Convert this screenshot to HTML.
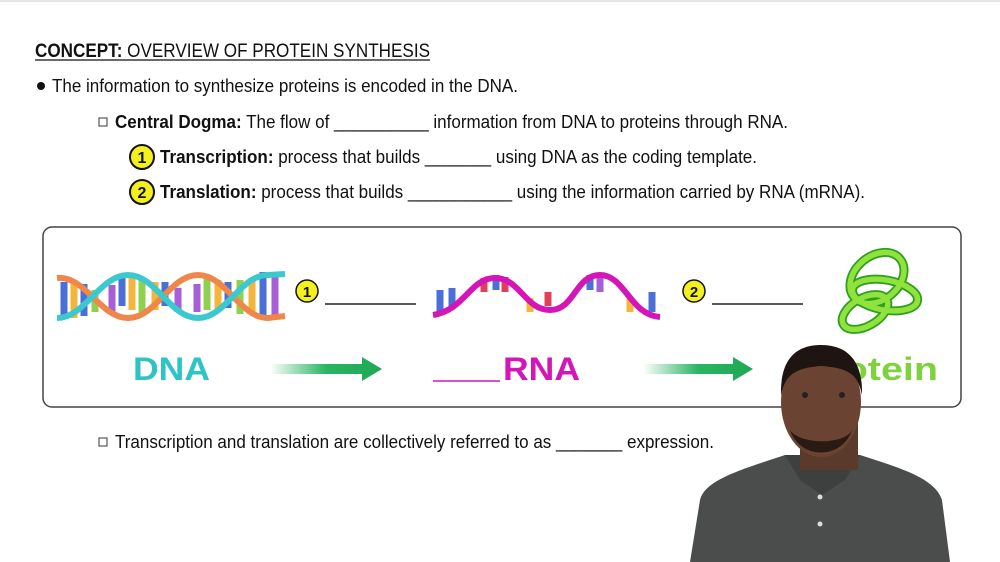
<!DOCTYPE html>
<html><head><meta charset="utf-8"><style>html,body{margin:0;padding:0;background:#fff}svg{display:block}text{font-family:"Liberation Sans",Arial,sans-serif}</style></head><body>
<svg width="1000" height="562" viewBox="0 0 1000 562" xmlns="http://www.w3.org/2000/svg">
<rect width="1000" height="562" fill="#fff"/>
<line x1="0" y1="1" x2="1000" y2="1" stroke="#ccc"/>
<text x="35" y="57" font-size="19" fill="#111" textLength="395" lengthAdjust="spacingAndGlyphs"><tspan font-weight="bold">CONCEPT:</tspan> OVERVIEW OF PROTEIN SYNTHESIS</text>
<line x1="35" y1="60" x2="430" y2="60" stroke="#111" stroke-width="1.2"/>
<circle cx="41" cy="86" r="4" fill="#111"/>
<text x="52" y="92" font-size="18" fill="#111" textLength="466" lengthAdjust="spacingAndGlyphs">The information to synthesize proteins is encoded in the DNA.</text>
<rect x="99" y="118" width="8" height="8" fill="none" stroke="#333"/>
<text x="115" y="128" font-size="18" fill="#111" textLength="673" lengthAdjust="spacingAndGlyphs"><tspan font-weight="bold">Central Dogma:</tspan> The flow of __________ information from DNA to proteins through RNA.</text>
<circle cx="142" cy="157" r="12" fill="#f4f01e" stroke="#111" stroke-width="2"/>
<text x="142" y="163" font-size="16" font-weight="bold" text-anchor="middle" fill="#111">1</text>
<text x="160" y="163" font-size="18" fill="#111" textLength="597" lengthAdjust="spacingAndGlyphs"><tspan font-weight="bold">Transcription:</tspan> process that builds _______ using DNA as the coding template.</text>
<circle cx="142" cy="192" r="12" fill="#f4f01e" stroke="#111" stroke-width="2"/>
<text x="142" y="198" font-size="16" font-weight="bold" text-anchor="middle" fill="#111">2</text>
<text x="160" y="198" font-size="18" fill="#111" textLength="705" lengthAdjust="spacingAndGlyphs"><tspan font-weight="bold">Translation:</tspan> process that builds ___________ using the information carried by RNA (mRNA).</text>
<rect x="43" y="227" width="918" height="180" rx="9" fill="#fff" stroke="#444" stroke-width="1.5"/>
<!-- DNA helix -->
<g stroke-width="7">
<line x1="64" y1="282" x2="64" y2="318" stroke="#4a6fd6"/><line x1="74" y1="280" x2="74" y2="318" stroke="#f3b53c"/><line x1="84" y1="284" x2="84" y2="316" stroke="#4a6fd6"/><line x1="95" y1="290" x2="95" y2="312" stroke="#8fd14f"/><line x1="112" y1="285" x2="112" y2="312" stroke="#a65fd6"/><line x1="122" y1="276" x2="122" y2="306" stroke="#4a6fd6"/><line x1="132" y1="276" x2="132" y2="310" stroke="#f3b53c"/><line x1="142" y1="280" x2="142" y2="312" stroke="#8fd14f"/><line x1="155" y1="282" x2="155" y2="310" stroke="#f3b53c"/><line x1="165" y1="282" x2="165" y2="306" stroke="#4a6fd6"/><line x1="178" y1="288" x2="178" y2="312" stroke="#a65fd6"/><line x1="197" y1="284" x2="197" y2="312" stroke="#a65fd6"/><line x1="207" y1="278" x2="207" y2="310" stroke="#8fd14f"/><line x1="218" y1="280" x2="218" y2="310" stroke="#f3b53c"/><line x1="228" y1="282" x2="228" y2="308" stroke="#4a6fd6"/><line x1="240" y1="280" x2="240" y2="314" stroke="#8fd14f"/><line x1="252" y1="278" x2="252" y2="312" stroke="#f3b53c"/><line x1="263" y1="272" x2="263" y2="316" stroke="#4a6fd6"/><line x1="275" y1="274" x2="275" y2="316" stroke="#a65fd6"/>
</g>
<path d="M57,278 C85,275 100,318 128,318 C156,318 170,275 198,275 C226,275 240,318 268,318 L285,316" fill="none" stroke="#f0874a" stroke-width="6"/>
<path d="M57,318 C85,318 100,275 128,275 C156,275 170,318 198,318 C226,318 240,275 268,275 L285,274" fill="none" stroke="#3cc8cf" stroke-width="6"/>
<circle cx="307" cy="291" r="11" fill="#f4f01e" stroke="#111" stroke-width="1.5"/>
<text x="307" y="297" font-size="15" font-weight="bold" text-anchor="middle" fill="#111">1</text>
<line x1="325" y1="304" x2="416" y2="304" stroke="#222" stroke-width="1.5"/>
<!-- RNA -->
<g stroke-width="7">
<line x1="440" y1="290" x2="440" y2="312" stroke="#4a6fd6"/><line x1="452" y1="288" x2="452" y2="308" stroke="#4a6fd6"/><line x1="484" y1="278" x2="484" y2="292" stroke="#e0405a"/><line x1="496" y1="275" x2="496" y2="290" stroke="#4a6fd6"/><line x1="505" y1="277" x2="505" y2="292" stroke="#e0405a"/><line x1="530" y1="298" x2="530" y2="312" stroke="#f3b53c"/><line x1="548" y1="292" x2="548" y2="306" stroke="#e0405a"/><line x1="590" y1="275" x2="590" y2="290" stroke="#4a6fd6"/><line x1="600" y1="278" x2="600" y2="292" stroke="#a65fd6"/><line x1="630" y1="298" x2="630" y2="312" stroke="#f3b53c"/><line x1="652" y1="292" x2="652" y2="312" stroke="#4a6fd6"/>
</g>
<path d="M433,315 C465,310 470,278 495,278 C520,278 525,310 550,310 C575,310 575,275 600,275 C625,275 630,315 660,317" fill="none" stroke="#d416b8" stroke-width="6"/>
<circle cx="694" cy="291" r="11" fill="#f4f01e" stroke="#111" stroke-width="1.5"/>
<text x="694" y="297" font-size="15" font-weight="bold" text-anchor="middle" fill="#111">2</text>
<line x1="712" y1="304" x2="803" y2="304" stroke="#222" stroke-width="1.5"/>
<!-- protein knot -->
<g fill="none" stroke="#2d9e1e" stroke-width="9">
<ellipse cx="877" cy="278" rx="30" ry="22" transform="rotate(-40 877 278)"/>
<ellipse cx="885" cy="295" rx="33" ry="15" transform="rotate(10 885 295)"/>
<ellipse cx="865" cy="312" rx="25" ry="14" transform="rotate(-30 865 312)"/>
</g>
<g fill="none" stroke="#8fe33c" stroke-width="5.5">
<ellipse cx="877" cy="278" rx="30" ry="22" transform="rotate(-40 877 278)"/>
<ellipse cx="885" cy="295" rx="33" ry="15" transform="rotate(10 885 295)"/>
<ellipse cx="865" cy="312" rx="25" ry="14" transform="rotate(-30 865 312)"/>
</g>
<text x="133" y="380" font-size="32" font-weight="bold" fill="#2ec4c6" textLength="77" lengthAdjust="spacingAndGlyphs">DNA</text>
<defs><linearGradient id="g" x1="0" x2="1"><stop offset="0" stop-color="#2ab563" stop-opacity="0"/><stop offset="0.5" stop-color="#2ab563"/><stop offset="1" stop-color="#1fa855"/></linearGradient></defs>
<path d="M270,364 L362,364 L362,357 L382,369 L362,381 L362,374 L270,374 Z" fill="url(#g)"/>
<path d="M643,364 L733,364 L733,357 L753,369 L733,381 L733,374 L643,374 Z" fill="url(#g)"/>
<line x1="433" y1="381" x2="500" y2="381" stroke="#d416b8" stroke-width="1.5"/>
<text x="503" y="380" font-size="32" font-weight="bold" fill="#d416b8" textLength="77" lengthAdjust="spacingAndGlyphs">RNA</text>
<text x="938" y="380" font-size="32" font-weight="bold" fill="#7ed23c" text-anchor="end" textLength="136" lengthAdjust="spacingAndGlyphs">Protein</text>
<rect x="99" y="438" width="8" height="8" fill="none" stroke="#333"/>
<text x="115" y="448" font-size="18" fill="#111" textLength="599" lengthAdjust="spacingAndGlyphs">Transcription and translation are collectively referred to as _______ expression.</text>
<!-- person -->
<path d="M690,562 L700,500 C705,480 740,470 785,455 L860,455 C900,468 935,478 942,500 L950,562 Z" fill="#4a4d4c"/>
<path d="M785,455 L800,480 L822,495 L845,480 L860,455 Z" fill="#3d403f"/>
<rect x="800" y="420" width="58" height="50" fill="#5a3a2a"/>
<ellipse cx="821" cy="402" rx="40" ry="55" fill="#6b4332"/>
<path d="M781,395 C780,355 800,345 821,345 C845,345 863,358 862,395 C858,375 850,368 821,366 C795,368 785,375 781,395 Z" fill="#1e1512"/>
<path d="M790,430 C800,460 842,460 852,430 C845,445 800,445 790,430 Z" fill="#2a1a14"/>
<circle cx="805" cy="395" r="3" fill="#222"/><circle cx="842" cy="395" r="3" fill="#222"/>
<circle cx="820" cy="497" r="2.5" fill="#ddd"/><circle cx="820" cy="524" r="2.5" fill="#ddd"/>
</svg>
</body></html>
